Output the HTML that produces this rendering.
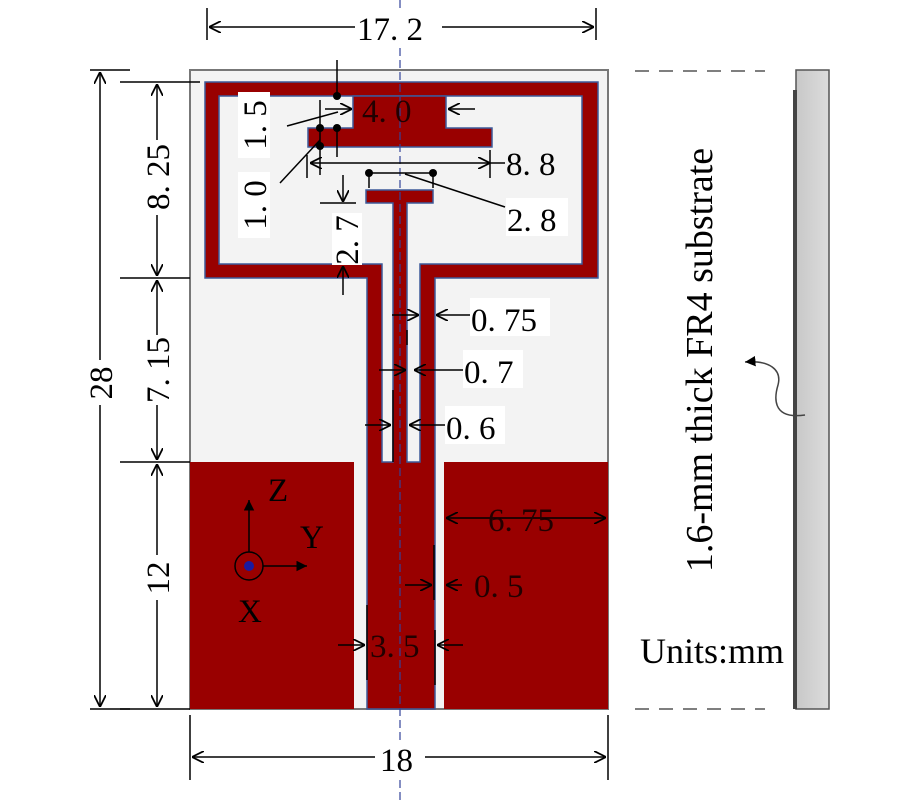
<!DOCTYPE html>
<html><head><style>body{margin:0;background:#fff}svg{display:block}</style></head><body>
<svg width="900" height="800" viewBox="0 0 900 800" xmlns="http://www.w3.org/2000/svg" font-family="Liberation Serif, serif">
<defs>
<marker id="a" viewBox="0 0 10 10" refX="10" refY="5" markerWidth="8" markerHeight="8" orient="auto-start-reverse"><path d="M0,0 L10,5 L0,10" fill="none" stroke="#000" stroke-width="1.5"/></marker>
<marker id="f" viewBox="0 0 10 10" refX="10" refY="5" markerWidth="7" markerHeight="7" orient="auto"><path d="M0,0 L10,5 L0,10 z" fill="#000"/></marker>
<linearGradient id="g" x1="0" x2="1"><stop offset="0" stop-color="#c8c8c8"/><stop offset="1" stop-color="#dcdcdc"/></linearGradient>
</defs>
<rect x="190" y="70" width="418" height="639" fill="#f3f3f3" stroke="#777" stroke-width="2"/>
<g fill="#990000" stroke="#3d5a9a" stroke-width="1.5">
<path d="M205,82 H598 V278 H435 V709 H367 V278 H205 Z M219,96 V264 H382 V462 H393 V203 H366 V190 H433 V203 H407 V462 H420 V264 H582 V96 Z" fill-rule="evenodd"/>
<path d="M353,96 H446 V128 H492 V147 H308 V128 H353 Z"/>
<rect x="190" y="462" width="164" height="247" stroke="none"/>
<rect x="444" y="462" width="164" height="247" stroke="none"/>
</g>
<line x1="400" y1="0" x2="400" y2="800" stroke="#33449a" stroke-width="1.2" stroke-dasharray="8,4"/>
<g stroke="#000" stroke-width="1.5" fill="none">
<line x1="207" y1="8" x2="207" y2="40"/><line x1="596" y1="8" x2="596" y2="40"/>
<line x1="209" y1="27" x2="355" y2="27" marker-start="url(#a)"/><line x1="440" y1="27" x2="594" y2="27" marker-end="url(#a)"/>
<line x1="190" y1="715" x2="190" y2="780"/><line x1="608" y1="715" x2="608" y2="780"/>
<line x1="192" y1="757" x2="375" y2="757" marker-start="url(#a)"/><line x1="425" y1="757" x2="606" y2="757" marker-end="url(#a)"/>
<line x1="90" y1="70" x2="130" y2="70"/><line x1="90" y1="709" x2="130" y2="709"/>
<line x1="100" y1="72" x2="100" y2="360" marker-start="url(#a)"/><line x1="100" y1="405" x2="100" y2="707" marker-end="url(#a)"/>
<line x1="120" y1="82" x2="200" y2="82"/><line x1="120" y1="278" x2="190" y2="278"/><line x1="120" y1="462" x2="190" y2="462"/><line x1="120" y1="709" x2="190" y2="709"/>
<line x1="157" y1="84" x2="157" y2="140" marker-start="url(#a)"/><line x1="157" y1="215" x2="157" y2="276" marker-end="url(#a)"/>
<line x1="157" y1="280" x2="157" y2="335" marker-start="url(#a)"/><line x1="157" y1="405" x2="157" y2="460" marker-end="url(#a)"/>
<line x1="157" y1="464" x2="157" y2="555" marker-start="url(#a)"/><line x1="157" y1="600" x2="157" y2="707" marker-end="url(#a)"/>
<line x1="337" y1="60" x2="337" y2="96"/><line x1="337" y1="128" x2="337" y2="157"/>
<line x1="320" y1="100" x2="320" y2="175"/>
<line x1="325" y1="109" x2="352" y2="109" marker-end="url(#a)"/><line x1="475" y1="109" x2="448" y2="109" marker-end="url(#a)"/>
<line x1="287" y1="126" x2="338" y2="112"/>
<line x1="280" y1="183" x2="320" y2="140"/>
<line x1="310" y1="163" x2="490" y2="163" marker-start="url(#a)" marker-end="url(#a)"/><line x1="490" y1="163" x2="505" y2="163"/>
<line x1="490" y1="150" x2="490" y2="178"/><line x1="307" y1="155" x2="307" y2="178"/>
<line x1="369" y1="172" x2="369" y2="188"/><line x1="433" y1="172" x2="433" y2="188"/>
<line x1="369" y1="173" x2="433" y2="173"/>
<line x1="405" y1="174" x2="505" y2="207"/>
<line x1="343" y1="175" x2="343" y2="202" marker-end="url(#a)"/><line x1="320" y1="203" x2="356" y2="203"/>
<line x1="343" y1="295" x2="343" y2="266" marker-end="url(#a)"/>
<line x1="392" y1="315" x2="419" y2="315" marker-end="url(#a)"/><line x1="470" y1="315" x2="436" y2="315" marker-end="url(#a)"/>
<line x1="407" y1="330" x2="407" y2="345"/>
<line x1="379" y1="370" x2="406" y2="370" marker-end="url(#a)"/><line x1="463" y1="370" x2="414" y2="370" marker-end="url(#a)"/>
<line x1="393" y1="390" x2="393" y2="462"/>
<line x1="365" y1="425" x2="391" y2="425" marker-end="url(#a)"/><line x1="445" y1="425" x2="409" y2="425" marker-end="url(#a)"/>
<line x1="446" y1="518" x2="606" y2="518" marker-start="url(#a)" marker-end="url(#a)"/>
<line x1="434" y1="545" x2="434" y2="600"/>
<line x1="405" y1="585" x2="432" y2="585" marker-end="url(#a)"/><line x1="462" y1="585" x2="446" y2="585" marker-end="url(#a)"/>
<line x1="367" y1="605" x2="367" y2="680"/><line x1="435" y1="630" x2="435" y2="685"/>
<line x1="338" y1="645" x2="365" y2="645" marker-end="url(#a)"/><line x1="463" y1="645" x2="437" y2="645" marker-end="url(#a)"/>
</g>
<g fill="#000"><circle cx="337" cy="96" r="4"/><circle cx="320" cy="128" r="4"/><circle cx="337" cy="128" r="4"/><circle cx="320" cy="146" r="4"/><circle cx="369" cy="173" r="4"/><circle cx="433" cy="173" r="4"/></g>
<g font-size="33" fill="#000">
<rect x="356" y="9" width="86" height="36" fill="#fff"/><text x="357" y="40">17. 2</text>
<rect x="376" y="740" width="48" height="36" fill="#fff"/><text x="380" y="771">18</text>
<text transform="translate(112,383) rotate(-90)" text-anchor="middle">28</text>
<text transform="translate(169,177) rotate(-90)" text-anchor="middle">8. 25</text>
<text transform="translate(169,370) rotate(-90)" text-anchor="middle">7. 15</text>
<text transform="translate(169,578) rotate(-90)" text-anchor="middle">12</text>
<text x="362" y="122" fill="#200">4. 0</text>
<rect x="238" y="92" width="32" height="66" fill="#fff"/><text transform="translate(266,125) rotate(-90)" text-anchor="middle">1. 5</text>
<rect x="238" y="172" width="32" height="66" fill="#fff"/><text transform="translate(266,205) rotate(-90)" text-anchor="middle">1. 0</text>
<rect x="332" y="213" width="30" height="52" fill="#fff"/><text transform="translate(358,240) rotate(-90)" text-anchor="middle">2. 7</text>
<text x="506" y="175">8. 8</text>
<rect x="506" y="198" width="62" height="38" fill="#fff"/><text x="507" y="231">2. 8</text>
<rect x="470" y="298" width="80" height="38" fill="#fff"/><text x="471" y="331">0. 75</text>
<rect x="463" y="350" width="60" height="38" fill="#fff"/><text x="464" y="383">0. 7</text>
<rect x="445" y="406" width="60" height="38" fill="#fff"/><text x="446" y="439">0. 6</text>
<text x="488" y="531" fill="#200">6. 75</text>
<text x="474" y="597" fill="#200">0. 5</text>
<text x="370" y="657" fill="#200">3. 5</text>
<text x="268" y="501">Z</text><text x="300" y="548">Y</text><text x="238" y="622">X</text>
<text transform="translate(712,360) rotate(-90)" text-anchor="middle" font-size="38">1.6-mm thick FR4 substrate</text>
<text x="640" y="663" font-size="36">Units:mm</text>
</g>
<g stroke="#000" stroke-width="1.5" fill="none">
<circle cx="249" cy="566" r="14"/>
<line x1="249" y1="552" x2="249" y2="500" marker-end="url(#f)"/>
<line x1="263" y1="566" x2="307" y2="566" marker-end="url(#f)"/>
</g>
<circle cx="249" cy="566" r="5" fill="#1a1aa0"/>
<line x1="635" y1="71" x2="765" y2="71" stroke="#555" stroke-width="1.5" stroke-dasharray="14,10"/>
<line x1="635" y1="709" x2="765" y2="709" stroke="#555" stroke-width="1.5" stroke-dasharray="14,10"/>
<rect x="796" y="70" width="33" height="639" fill="url(#g)" stroke="#555" stroke-width="1.5"/>
<line x1="795" y1="90" x2="795" y2="709" stroke="#444" stroke-width="4"/>
<path d="M805,415 C770,420 775,395 778,385 C782,370 770,360 745,362" fill="none" stroke="#444" stroke-width="1.5" marker-end="url(#f)"/>
</svg>
</body></html>
